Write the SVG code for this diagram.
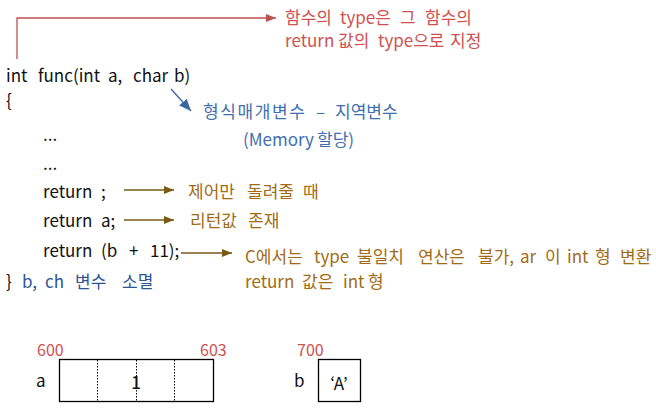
<svg xmlns="http://www.w3.org/2000/svg" width="656" height="415" viewBox="0 0 656 415">
<style>
text{font-family:"Noto Sans CJK KR","Noto Sans",sans-serif;font-size:17px;}
.k{fill:#111;}
.r{fill:#d0504f;}
.bl{fill:#3f6fb0;}
.bn{fill:#a06b14;}
.db{fill:#2e5494;}
.n{font-size:16px;}
.box{fill:none;stroke:#000;stroke-width:1.3;}
.dot{stroke:#000;stroke-width:1;stroke-dasharray:1.5,1.5;}
</style>
<defs>
<marker id="mr" markerWidth="10" markerHeight="8" refX="10" refY="4" orient="auto" markerUnits="userSpaceOnUse"><path d="M0,0 L10,4 L0,8 z" fill="#c0504d"/></marker>
<marker id="mb" markerWidth="10" markerHeight="8" refX="10" refY="4" orient="auto" markerUnits="userSpaceOnUse"><path d="M0,0 L10,4 L0,8 z" fill="#7a5a14"/></marker>
<marker id="mu" markerWidth="12" markerHeight="10" refX="12" refY="5" orient="auto" markerUnits="userSpaceOnUse"><path d="M0,0 L12,5 L0,10 z" fill="#3a66a0"/></marker>
</defs>
<g id="connectors">
<path d="M17,59 V18 H276" fill="none" stroke="#c0504d" stroke-width="1.3" marker-end="url(#mr)"/>
<line x1="171" y1="89" x2="191" y2="111" stroke="#3a66a0" stroke-width="1.3" marker-end="url(#mu)"/>
<line x1="124" y1="190" x2="174" y2="190" stroke="#7a5a14" stroke-width="1.3" marker-end="url(#mb)"/>
<line x1="124" y1="220" x2="174" y2="220" stroke="#7a5a14" stroke-width="1.3" marker-end="url(#mb)"/>
<line x1="181" y1="253" x2="232" y2="253" stroke="#7a5a14" stroke-width="1.3" marker-end="url(#mb)"/>
</g>
<g id="code">
<text class="k" y="82"><tspan x="6">int</tspan> <tspan x="38">func(int</tspan> <tspan x="108">a,</tspan> <tspan x="133">char</tspan> <tspan x="174">b)</tspan></text>
<text class="k" x="6" y="107">{</text>
<text class="k" x="43" y="141">...</text>
<text class="k" x="43" y="170">...</text>
<text class="k" y="198"><tspan x="43">return</tspan> <tspan x="101">;</tspan></text>
<text class="k" y="227"><tspan x="43">return</tspan> <tspan x="101">a;</tspan></text>
<text class="k" y="257"><tspan x="43">return</tspan> <tspan x="101">(b</tspan> <tspan x="129">+</tspan> <tspan x="150">11);</tspan></text>
<text class="k" x="6" y="288">}</text>
<text class="db" y="288"><tspan x="22">b,</tspan> <tspan x="45">ch</tspan> <tspan x="75">변수</tspan> <tspan x="122">소멸</tspan></text>
</g>
<g id="note-type">
<text class="r" y="24"><tspan x="285">함수의</tspan> <tspan x="340">type은</tspan> <tspan x="400">그</tspan> <tspan x="425">함수의</tspan></text>
<text class="r" y="47"><tspan x="285">return</tspan> <tspan x="338">값의</tspan> <tspan x="378">type으로</tspan> <tspan x="450">지정</tspan></text>
</g>
<g id="note-param">
<text class="bl" y="118"><tspan x="203" textLength="102" lengthAdjust="spacing">형식매개변수</tspan> <tspan x="316">–</tspan> <tspan x="335">지역변수</tspan></text>
<text class="bl" y="146"><tspan x="243">(Memory</tspan> <tspan x="317">할당)</tspan></text>
</g>
<g id="note-return1"><text class="bn" y="198"><tspan x="188">제어만</tspan> <tspan x="247">돌려줄</tspan> <tspan x="303">때</tspan></text></g>
<g id="note-return2"><text class="bn" y="227"><tspan x="190">리턴값</tspan> <tspan x="248">존재</tspan></text></g>
<g id="note-return3">
<text class="bn" y="263"><tspan x="245">C에서는</tspan> <tspan x="314">type</tspan> <tspan x="357">불일치</tspan> <tspan x="418">연산은</tspan> <tspan x="478">불가,</tspan> <tspan x="520">ar</tspan> <tspan x="545">이</tspan> <tspan x="567">int</tspan> <tspan x="595">형</tspan> <tspan x="620">변환</tspan></text>
<text class="bn" y="288"><tspan x="245">return</tspan> <tspan x="302">값은</tspan> <tspan x="343">int</tspan> <tspan x="368">형</tspan></text>
</g>
<g id="mem-a">
<text class="r n" x="37" y="356">600</text>
<text class="r n" x="200" y="356">603</text>
<text class="k" x="36" y="387" font-size="18">a</text>
<rect class="box" x="59.5" y="359.5" width="154" height="42"/>
<line class="dot" x1="97.5" y1="360" x2="97.5" y2="401"/>
<line class="dot" x1="136.5" y1="360" x2="136.5" y2="401"/>
<line class="dot" x1="174.5" y1="360" x2="174.5" y2="401"/>
<text class="k" x="136" y="389" text-anchor="middle" font-size="23" font-weight="500">1</text>
</g>
<g id="mem-b">
<text class="r n" x="297" y="356">700</text>
<text class="k" x="294" y="387" font-size="18">b</text>
<rect class="box" x="318.5" y="359.5" width="42" height="42"/>
<text class="k" x="339" y="390" text-anchor="middle" font-size="22">‘A’</text>
</g>
</svg>
